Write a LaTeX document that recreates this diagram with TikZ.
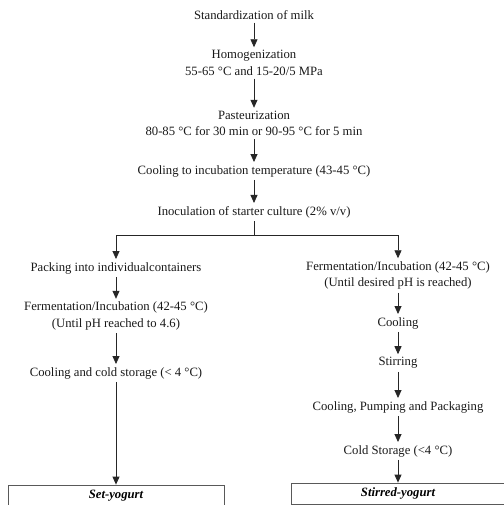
\documentclass[tikz,border=0pt]{standalone}
\usepackage{fontspec}
\setmainfont{Liberation Serif}
\usetikzlibrary{arrows.meta}
\begin{document}
\begin{tikzpicture}[x=1pt,y=-1pt,
  txt/.style={align=center,inner xsep=0pt,inner ysep=3pt,font=\fontsize{12.7}{16.5}\selectfont,text=black!90},
  arr/.style={-{Triangle[length=8pt,width=7pt]},line width=0.8pt,draw=black!85},
  ln/.style={line width=0.8pt,draw=black!85},
  endbox/.style={draw=black!65,line width=0.8pt,minimum height=21pt,inner sep=0pt,font=\fontsize{12.7}{16.5}\selectfont\bfseries\itshape}]
\useasboundingbox (0,0) rectangle (503,505);
\node[txt] (std) at (254,15) {Standardization of milk};
\node[txt] (hom) at (254,63) {Homogenization\\55-65 °C and 15-20/5 MPa};
\node[txt] (pas) at (254,123.5) {Pasteurization\\80-85 °C for 30 min or 90-95 °C for 5 min};
\node[txt] (coo) at (254,171) {Cooling to incubation temperature (43-45 °C)};
\node[txt] (ino) at (254,212) {Inoculation of starter culture (2\% v/v)};
\coordinate (split) at (254,235);
\node[txt] (pack) at (116,268) {Packing into individualcontainers};
\node[txt] (lfer) at (116,316) {Fermentation/Incubation (42-45 °C)\\(Until pH reached to 4.6)};
\node[txt] (lcold) at (116,373) {Cooling and cold storage (< 4 °C)};
\node[endbox,minimum width=216pt] (set) at (116,495.5) {Set-yogurt};
\node[txt] (rfer) at (398,275.5) {Fermentation/Incubation (42-45 °C)\\(Until desired pH is reached)};
\node[txt] (rcoo) at (398,323) {Cooling};
\node[txt] (stir) at (398,363) {Stirring};
\node[txt] (pump) at (398,407) {Cooling, Pumping and Packaging};
\node[txt] (rcold) at (398,451) {Cold Storage (<4 °C)};
\node[endbox,minimum width=214pt] (stirred) at (398,493.5) {Stirred-yogurt};
\draw[arr] (std) -- (hom);
\draw[arr] (hom) -- (pas);
\draw[arr] (pas) -- (coo);
\draw[arr] (coo) -- (ino);
\draw[ln] (ino) -- (split);
\draw[arr] (split) -| (pack);
\draw[arr] (split) -| (rfer);
\draw[arr] (pack) -- (lfer);
\draw[arr] (lfer) -- (lcold);
\draw[arr] (lcold) -- (set);
\draw[arr] (rfer) -- (rcoo);
\draw[arr] (rcoo) -- (stir);
\draw[arr] (stir) -- (pump);
\draw[arr] (pump) -- (rcold);
\draw[arr] (rcold) -- (stirred);
\end{tikzpicture}
\end{document}
